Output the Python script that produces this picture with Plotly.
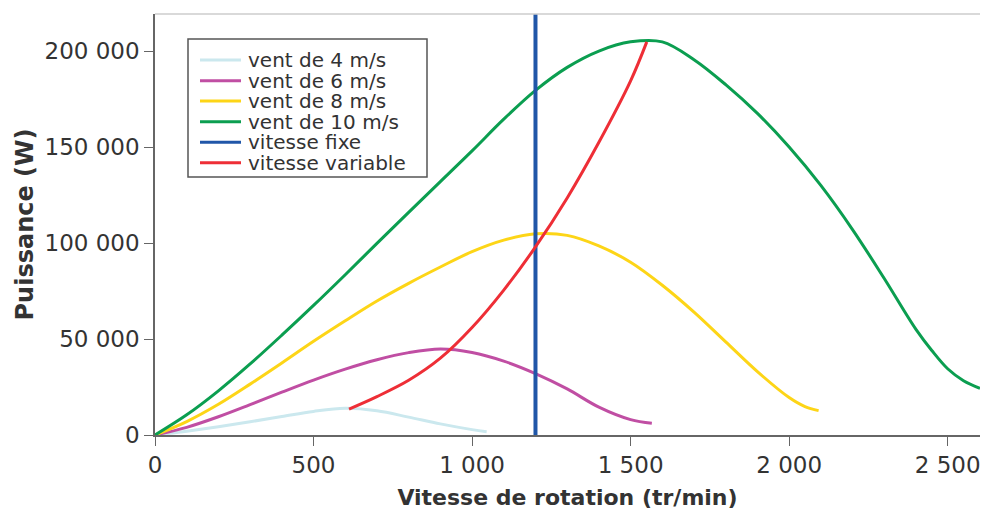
import plotly.graph_objects as go

# ---- data ----
x_v4 = [0, 100, 200, 300, 400, 500, 600, 700, 800, 900, 1000, 1046]
y_v4 = [0, 2000, 4300, 6900, 9600, 12300, 13900, 12600, 9300, 5800, 2800, 1700]

x_v6 = [0, 100, 200, 300, 400, 500, 600, 700, 800, 900, 1000, 1100, 1200, 1300, 1400, 1500, 1567]
y_v6 = [0, 4000, 9500, 15800, 22300, 28600, 34300, 39200, 42900, 44800, 43000, 38500,
        32000, 24000, 14500, 8000, 6100]

x_v8 = [0, 100, 200, 300, 400, 500, 600, 700, 800, 900, 1000, 1100, 1200, 1300,
        1400, 1500, 1600, 1700, 1800, 1900, 2000, 2050, 2093]
y_v8 = [0, 7000, 16000, 26500, 37500, 48800, 59500, 69800, 79000, 87500, 95500, 101500,
        104800, 104000, 98500, 90000, 78000, 64000, 48500, 33000, 19500, 14800, 12700]

x_v10 = [0, 100, 200, 300, 400, 500, 600, 700, 800, 900, 1000, 1100, 1200, 1300, 1400,
         1500, 1600, 1700, 1800, 1900, 2000, 2100, 2200, 2300, 2400, 2450, 2500, 2550, 2602]
y_v10 = [0, 10500, 23000, 37000, 52000, 67500, 83500, 99800, 116000, 132000, 148000,
         164500, 179500, 191500, 200000, 204800, 204800, 195500, 182500, 167500,
         150000, 130000, 107000, 81500, 55000, 44000, 34500, 28300, 24300]

x_fixe = [1200, 1200]
y_fixe = [0, 230000]

x_var = [612, 700, 800, 900, 1000, 1100, 1200, 1300, 1400, 1500, 1551]
y_var = [13500, 20000, 28500, 40000, 56000, 75500, 98000, 123500, 152500, 184500, 204800]

names = ["vent de 4 m/s", "vent de 6 m/s", "vent de 8 m/s", "vent de 10 m/s",
         "vitesse fixe", "vitesse variable"]
colors = ["#cbe8ee", "#c04ea3", "#fdd517", "#0b9e50", "#2056a8", "#ee2e36"]
widths = [3, 3, 3, 3, 4, 3]

x_tickvals = [0, 500, 1000, 1500, 2000, 2500]
x_ticktext = ["0", "500", "1 000", "1 500", "2 000", "2 500"]
y_tickvals = [0, 50000, 100000, 150000, 200000]
y_ticktext = ["0", "50 000", "100 000", "150 000", "200 000"]

series = [(x_v4, y_v4), (x_v6, y_v6), (x_v8, y_v8), (x_v10, y_v10),
          (x_fixe, y_fixe), (x_var, y_var)]

FONT = "DejaVu Sans"
fig = go.Figure()
for (xs, ys), n, c, w in zip(series, names, colors, widths):
    fig.add_trace(go.Scatter(x=xs, y=ys, mode="lines", name=n,
                             line=dict(color=c, width=w, shape="spline", smoothing=1.0),
                             showlegend=False))

W, H = 981, 511
L, R, T, B = 155, 1, 14, 76
pw, ph = W - L - R, H - T - B

def px(xp):  # page pixel x -> paper
    return (xp - L) / pw

def py(yp):  # page pixel y -> paper
    return (H - B - yp) / ph

# legend drawn as a framed box (tight line spacing as in the reference)
fig.add_shape(type="rect", xref="paper", yref="paper",
              x0=px(188), x1=px(427), y0=py(177), y1=py(39),
              line=dict(color="#555555", width=1.5), fillcolor="white", layer="above")
rows = [60, 80.7, 101, 121.7, 142.3, 162.7]
for r, n, c in zip(rows, names, colors):
    fig.add_shape(type="line", xref="paper", yref="paper",
                  x0=px(200), x1=px(241), y0=py(r), y1=py(r),
                  line=dict(color=c, width=3), layer="above")
    fig.add_annotation(xref="paper", yref="paper", x=px(246), y=py(r),
                       text=n, showarrow=False, xanchor="left", yanchor="middle",
                       font=dict(family=FONT, size=20, color="#333333"))

# light top border
fig.add_shape(type="line", xref="paper", yref="paper", x0=0, x1=1, y0=1, y1=1,
              line=dict(color="#cccccc", width=1.5))

fig.update_layout(
    width=W, height=H,
    margin=dict(l=L, r=R, t=T, b=B),
    plot_bgcolor="white", paper_bgcolor="white",
    font=dict(family=FONT, color="#333333"),
)
fig.update_xaxes(range=[0, 2602], tickvals=x_tickvals, ticktext=x_ticktext,
                 showgrid=False, zeroline=False, showline=True, linecolor="#666666",
                 linewidth=1.5, ticks="outside", ticklen=9, tickcolor="#666666",
                 tickfont=dict(family=FONT, size=23, color="#333333"),
                 title=dict(text="<b>Vitesse de rotation (tr/min)</b>", standoff=12,
                            font=dict(family=FONT, size=22, color="#333333")))
fig.update_yaxes(range=[0, 219300], tickvals=y_tickvals, ticktext=y_ticktext,
                 showgrid=False, zeroline=False, showline=True, linecolor="#666666",
                 linewidth=1.5, ticks="outside", ticklen=9, tickcolor="#666666",
                 tickfont=dict(family=FONT, size=23, color="#333333"),
                 title=dict(text="<b>Puissance (W)</b>", standoff=4,
                            font=dict(family=FONT, size=24, color="#333333")))

fig.write_html("out.html", config={"displayModeBar": False},
               post_script="document.body.style.margin='0px';")
